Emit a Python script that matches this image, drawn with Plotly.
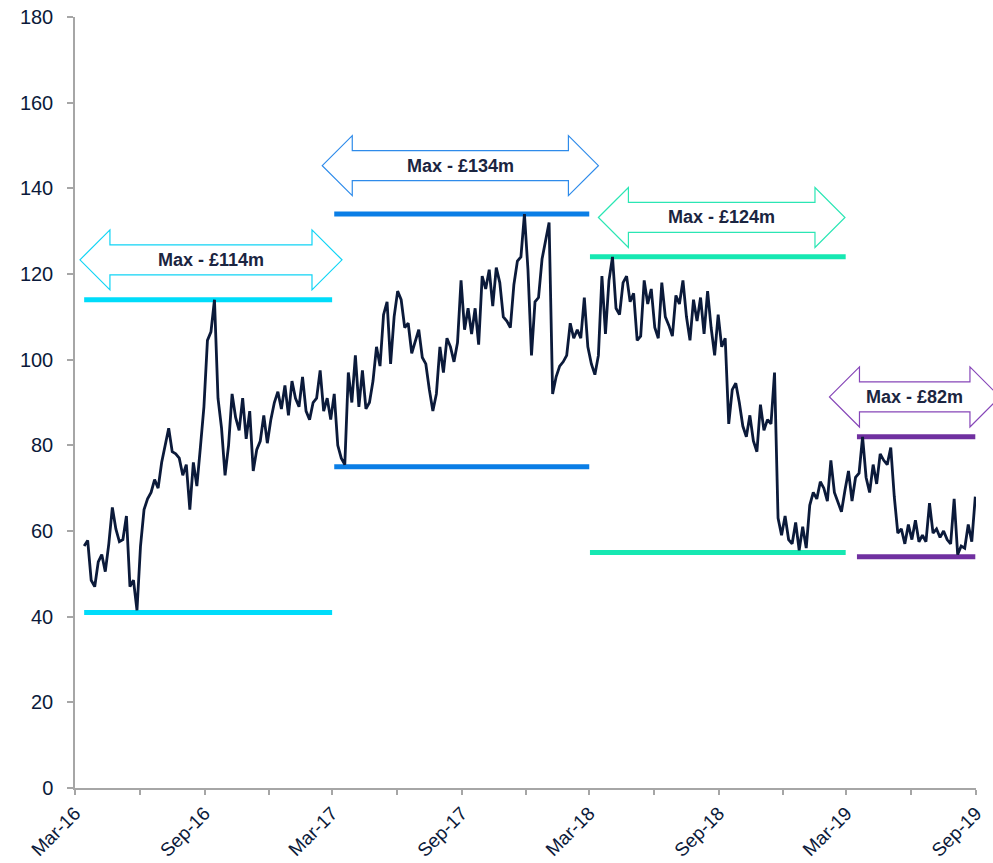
import pandas as pd
import plotly.graph_objects as go

# Daily-ish series sampled every 5 days, £m
series_start = "2016-03-14"
values = [
    56.5, 57.8, 48.5, 47.0, 52.8, 54.5, 50.5, 57.0, 65.5, 60.5,
    57.5, 58.0, 63.5, 47.0, 48.5, 41.5, 56.5, 65.0, 67.5, 69.0,
    72.0, 70.0, 76.0, 80.0, 84.0, 78.5, 78.0, 77.0, 73.0, 75.5,
    65.0, 76.0, 70.5, 79.5, 89.0, 104.5, 106.5, 114.0, 91.0, 84.0,
    73.0, 80.0, 92.0, 86.5, 83.5, 91.0, 81.5, 88.0, 74.0, 79.0,
    81.0, 87.0, 80.5, 86.0, 90.0, 92.5, 88.5, 94.0, 87.0, 95.0,
    91.0, 89.0, 96.0, 88.0, 86.0, 90.0, 91.0, 97.5, 88.0, 91.0,
    86.0, 92.0, 80.0, 77.0, 75.5, 97.0, 90.0, 101.0, 89.0, 97.5,
    88.5, 90.0, 95.0, 103.0, 98.5, 110.5, 113.5, 99.0, 110.0, 116.0,
    114.0, 107.5, 108.5, 101.5, 104.0, 107.0, 100.5, 99.0, 93.0, 88.0,
    92.0, 103.0, 97.0, 105.0, 103.0, 99.5, 104.0, 118.5, 107.0, 112.0,
    106.0, 112.0, 103.5, 119.5, 116.5, 121.0, 112.5, 121.5, 118.0, 110.0,
    109.0, 107.5, 117.5, 123.0, 124.0, 134.0, 121.0, 101.0, 113.5, 114.5,
    123.5, 127.5, 132.0, 92.0, 96.0, 98.5, 99.5, 101.0, 108.5, 105.0,
    107.0, 105.0, 114.5, 103.0, 99.0, 96.5, 101.0, 119.5, 106.0, 118.5,
    124.0, 112.0, 110.5, 118.0, 119.5, 113.5, 115.5, 104.5, 105.5, 118.5,
    113.0, 116.5, 107.5, 105.0, 118.0, 110.0, 108.0, 105.5, 115.0, 113.0,
    118.5, 110.0, 104.5, 114.0, 109.0, 114.5, 106.0, 116.0, 107.5, 101.0,
    110.5, 103.0, 105.0, 85.0, 93.0, 94.5, 90.0, 84.5, 82.0, 87.0,
    81.0, 78.5, 89.5, 83.5, 86.0, 85.0, 97.0, 63.0, 59.0, 63.5,
    58.0, 57.0, 62.0, 55.5, 61.0, 56.0, 66.0, 69.0, 67.5, 71.5,
    70.0, 67.0, 76.5, 69.0, 66.5, 64.5, 69.5, 74.0, 67.0, 72.5,
    73.5, 82.0, 72.5, 69.0, 75.5, 71.0, 78.0, 76.5, 75.5, 79.5,
    68.0, 59.5, 60.5, 57.0, 61.5, 58.0, 62.5, 57.5, 59.0, 57.5,
    66.5, 59.5, 60.5, 58.5, 60.0, 58.0, 57.0, 67.5, 54.5, 56.5,
    56.0, 61.5, 57.5, 68.0,
]
dates = pd.date_range(series_start, periods=len(values), freq="5D")

# Yearly windows with their range
period_starts = ["2016-03-14", "2017-03-04", "2018-03-02", "2019-03-16"]
period_ends = ["2017-03-01", "2018-03-01", "2019-02-28", "2019-08-31"]
period_max = [114, 134, 124, 82]
period_min = [41, 75, 55, 54]
period_colors = ["#00DCFA", "#0A7EE6", "#16E8B2", "#7030A0"]
arrow_colors = ["#10D4F5", "#2E8BEA", "#2BE6B4", "#8646B8"]
arrow_starts = ["2016-03-08", "2017-02-15", "2018-03-14", "2019-02-05"]
arrow_ends = ["2017-03-15", "2018-03-14", "2019-02-27", "2019-10-05"]
arrow_levels = [123.3, 145.3, 133.2, 91.3]

# Axis ticks
tick_dates = pd.date_range("2016-03-01", "2019-09-01", freq="3MS")
tick_labels = [d.strftime("%b-%y") if d.month in (3, 9) else "" for d in tick_dates]
x_start, x_end = pd.Timestamp("2016-03-01"), pd.Timestamp("2019-09-01")
y_max = 180

W, H = 993, 863
M_L, M_R, M_T, M_B = 75, 17, 17, 75
plot_w, plot_h = W - M_L - M_R, H - M_T - M_B

navy = "#0B1A3A"
font_family = "Liberation Sans, Arial, sans-serif"

fig = go.Figure()

for s, e, lo, hi, c in zip(period_starts, period_ends, period_min, period_max, period_colors):
    for lvl in (hi, lo):
        fig.add_trace(go.Scatter(
            x=[s, e], y=[lvl, lvl], mode="lines",
            line=dict(color=c, width=5), hoverinfo="skip", showlegend=False,
        ))

fig.add_trace(go.Scatter(
    x=dates, y=values, mode="lines",
    line=dict(color=navy, width=2.8), showlegend=False,
))


def xfrac(d):
    return (pd.Timestamp(d) - x_start) / (x_end - x_start)


# Double-headed outline arrows carrying the max label
head_w = 30 / plot_w
half_outer = 30 / plot_h
half_shaft = 15 / plot_h
shapes, annotations = [], []
for s, e, lvl, hi, c in zip(arrow_starts, arrow_ends, arrow_levels, period_max, arrow_colors):
    xl, xr = xfrac(s), xfrac(e)
    yc = lvl / y_max
    pts = [
        (xl, yc), (xl + head_w, yc + half_outer), (xl + head_w, yc + half_shaft),
        (xr - head_w, yc + half_shaft), (xr - head_w, yc + half_outer), (xr, yc),
        (xr - head_w, yc - half_outer), (xr - head_w, yc - half_shaft),
        (xl + head_w, yc - half_shaft), (xl + head_w, yc - half_outer),
    ]
    path = "M " + " L ".join(f"{px:.5f},{py:.5f}" for px, py in pts) + " Z"
    shapes.append(dict(
        type="path", xref="paper", yref="paper", path=path,
        line=dict(color=c, width=1.2), fillcolor="white", layer="above",
    ))
    annotations.append(dict(
        x=(xl + xr) / 2, y=yc, xref="paper", yref="paper",
        text=f"<b>Max - £{hi}m</b>", showarrow=False,
        font=dict(family=font_family, size=18, color="#1B2541"),
        xanchor="center", yanchor="middle",
    ))

axis_grey = "#A6A6A6"
fig.update_layout(
    width=W, height=H,
    margin=dict(l=M_L, r=M_R, t=M_T, b=M_B, pad=0, autoexpand=False),
    plot_bgcolor="white", paper_bgcolor="white",
    shapes=shapes, annotations=annotations,
    font=dict(family=font_family, size=20, color=navy),
    xaxis=dict(
        type="date", range=[x_start, x_end], automargin=False,
        tickvals=tick_dates, ticktext=tick_labels, tickangle=-45,
        showgrid=False, zeroline=False,
        showline=True, linecolor=axis_grey, linewidth=1.5,
        ticks="outside", ticklen=5, tickcolor=axis_grey, tickwidth=1.5,
        tickfont=dict(family=font_family, size=19, color=navy),
    ),
    yaxis=dict(
        range=[0, y_max], tick0=0, dtick=20, automargin=False,
        showgrid=False, zeroline=False,
        showline=True, linecolor=axis_grey, linewidth=1.5,
        ticks="outside", ticklen=6, tickcolor=axis_grey, tickwidth=1.5,
        ticklabelstandoff=10,
        tickfont=dict(family=font_family, size=20, color=navy),
    ),
)

fig.write_html("out.html")
